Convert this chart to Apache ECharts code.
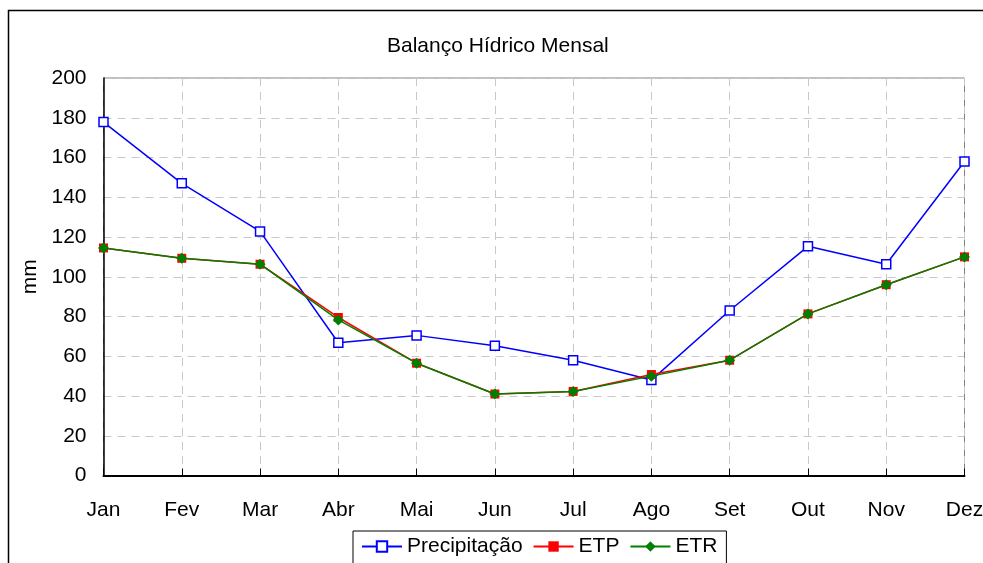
<!DOCTYPE html>
<html>
<head>
<meta charset="utf-8">
<script src="https://cdn.jsdelivr.net/npm/echarts@6/dist/echarts.min.js"></script>
<style>
  html, body { margin: 0; padding: 0; background: #fff; }
  #chart { width: 983px; height: 563px; }
</style>
</head>
<body>
<div id="chart"></div>
<script>
// dados do balanço hídrico
var meses = ['Jan', 'Fev', 'Mar', 'Abr', 'Mai', 'Jun', 'Jul', 'Ago', 'Set', 'Out', 'Nov', 'Dez'];
var precipitacao = [177.8, 147.0, 122.8, 66.8, 70.5, 65.3, 58.0, 48.0, 83.0, 115.3, 106.3, 158.0];
var etp = [114.5, 109.3, 106.3, 79.5, 56.5, 41.0, 42.3, 50.8, 58.0, 81.3, 96.0, 110.0];
var etr = [114.5, 109.3, 106.3, 78.3, 56.5, 41.0, 42.3, 50.0, 58.0, 81.3, 96.0, 110.0];
var yTicks = { min: 0, max: 200, interval: 20 };

var fonte = '"Liberation Sans", Arial, sans-serif';

var chart = echarts.init(document.getElementById('chart'));

var option = {
  backgroundColor: '#fff',
  animation: false,
  title: {
    text: 'Balanço Hídrico Mensal',
    left: 382,
    top: 31,
    textStyle: { fontFamily: fonte, fontSize: 21, fontWeight: 'normal', color: '#000' }
  },
  graphic: [
    {
      type: 'rect',
      shape: { x: 8.5, y: 10.5, width: 1000, height: 600 },
      style: { fill: 'none', stroke: '#000', lineWidth: 1.5 },
      z: -1
    }
  ],
  legend: {
    data: ['Precipitação', 'ETP', 'ETR'],
    left: 353,
    top: 531,
    padding: [5, 9, 8, 8],
    itemGap: 10,
    itemWidth: 40,
    itemHeight: 13,
    borderColor: '#000',
    borderWidth: 1,
    backgroundColor: '#fff',
    textStyle: { fontFamily: fonte, fontSize: 21, color: '#000' }
  },
  grid: {
    left: 103.5,
    right: 18.5,
    top: 78,
    bottom: 87.5,
    outerBoundsMode: 'none',
    show: true,
    borderColor: '#808080',
    borderWidth: 1
  },
  xAxis: {
    type: 'category',
    data: meses,
    boundaryGap: false,
    axisLine: { lineStyle: { color: '#000', width: 2 } },
    axisTick: { inside: true, length: 7, lineStyle: { color: '#000' } },
    axisLabel: { margin: 24, color: '#000', fontFamily: fonte, fontSize: 21 },
    splitLine: { show: true, lineStyle: { color: '#c8c8c8', type: [8, 6] } }
  },
  yAxis: {
    type: 'value',
    min: yTicks.min,
    max: yTicks.max,
    interval: yTicks.interval,
    name: 'mm',
    nameLocation: 'middle',
    nameGap: 61,
    nameTextStyle: { fontFamily: fonte, fontSize: 21, color: '#000' },
    axisLine: { show: true, lineStyle: { color: '#000', width: 1.5 } },
    axisTick: { show: false },
    axisLabel: { margin: 17, color: '#000', fontFamily: fonte, fontSize: 21 },
    splitLine: { show: true, lineStyle: { color: '#c8c8c8', type: [8, 6] } }
  },
  series: [
    {
      name: 'Precipitação',
      type: 'line',
      data: precipitacao,
      symbol: 'rect',
      symbolSize: 9,
      showAllSymbol: true,
      lineStyle: { color: '#0000ff', width: 1.5 },
      itemStyle: { color: '#fff', borderColor: '#0000ff', borderWidth: 1.5 },
      z: 3
    },
    {
      name: 'ETP',
      type: 'line',
      data: etp,
      symbol: 'rect',
      symbolSize: 9,
      lineStyle: { color: '#ff0000', width: 1.5 },
      itemStyle: { color: '#ff0000' },
      z: 4
    },
    {
      name: 'ETR',
      type: 'line',
      data: etr,
      symbol: 'diamond',
      symbolSize: 11,
      lineStyle: { color: '#008000', width: 1.5 },
      itemStyle: { color: '#008000' },
      z: 5
    }
  ]
};

chart.setOption(option);
</script>
</body>
</html>
